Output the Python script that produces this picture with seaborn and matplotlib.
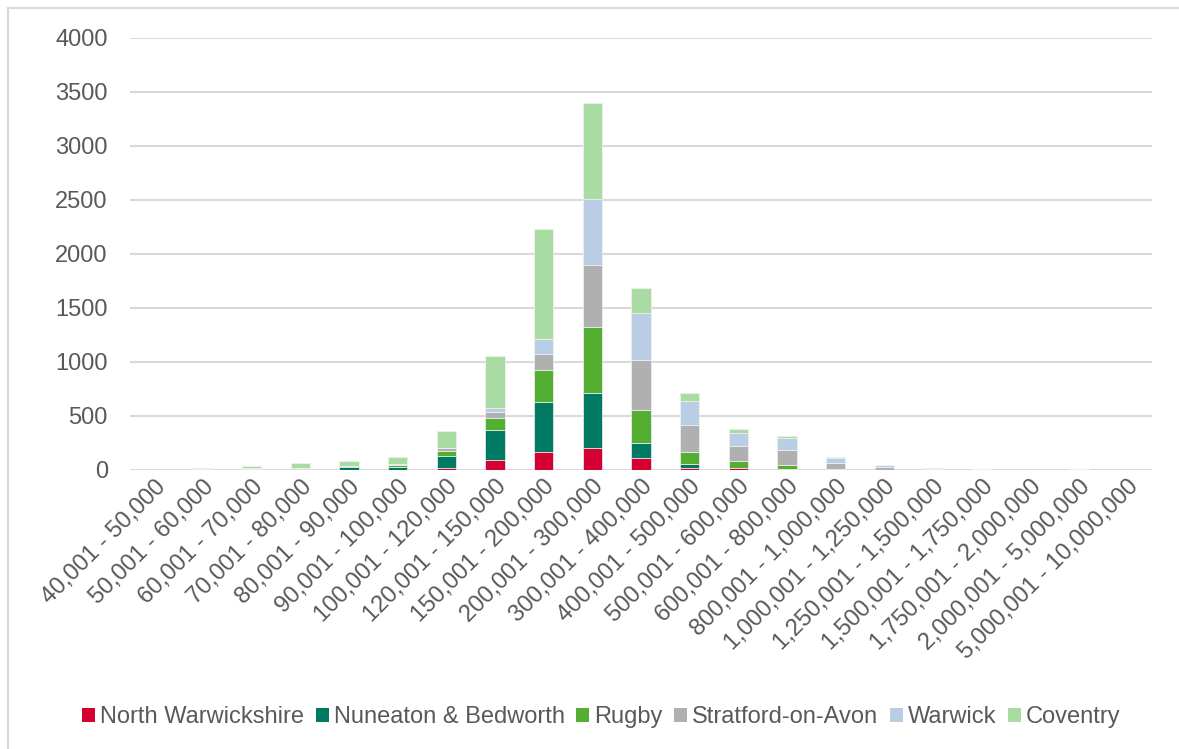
import numpy as np
import pandas as pd
import matplotlib
matplotlib.use("Agg")
import matplotlib.pyplot as plt
from matplotlib.patches import Patch, Rectangle
import seaborn as sns

# Price bands (GBP)
bands = [
    "40,001 - 50,000", "50,001 - 60,000", "60,001 - 70,000", "70,001 - 80,000",
    "80,001 - 90,000", "90,001 - 100,000", "100,001 - 120,000", "120,001 - 150,000",
    "150,001 - 200,000", "200,001 - 300,000", "300,001 - 400,000", "400,001 - 500,000",
    "500,001 - 600,000", "600,001 - 800,000", "800,001 - 1,000,000",
    "1,000,001 - 1,250,000", "1,250,001 - 1,500,000", "1,500,001 - 1,750,000",
    "1,750,001 - 2,000,000", "2,000,001 - 5,000,000", "5,000,001 - 10,000,000",
]

# Sales counts per district in each band
north_warwickshire = [0, 1, 1, 2, 2, 3, 22, 95, 168, 203, 112, 20, 14, 8, 2, 1, 0, 0, 0, 0, 0]
nuneaton_bedworth = [0, 2, 6, 4, 24, 28, 105, 277, 459, 508, 138, 35, 3, 2, 1, 0, 0, 0, 0, 0, 0]
rugby = [0, 1, 3, 10, 10, 15, 47, 108, 297, 617, 302, 111, 62, 34, 3, 1, 0, 0, 0, 0, 0]
stratford = [0, 1, 3, 2, 3, 2, 30, 56, 148, 568, 463, 250, 145, 139, 62, 24, 4, 6, 2, 4, 0]
warwick = [0, 1, 1, 1, 2, 3, 4, 37, 142, 614, 435, 219, 115, 117, 42, 17, 3, 2, 1, 1, 0]
coventry = [0, 14, 22, 45, 45, 70, 152, 487, 1015, 886, 238, 74, 40, 19, 8, 3, 10, 1, 0, 1, 0]

series_names = ["North Warwickshire", "Nuneaton & Bedworth", "Rugby",
                "Stratford-on-Avon", "Warwick", "Coventry"]
series_values = [north_warwickshire, nuneaton_bedworth, rugby, stratford, warwick, coventry]
colors = ["#D50032", "#007A62", "#53AE32", "#B0B0B0", "#B9CDE5", "#A9DCA3"]

text_color = "#595959"
grid_color = "#D9D9D9"

sns.set_theme(style="white")
plt.rcParams["font.family"] = ["Liberation Sans", "DejaVu Sans"]

fig = plt.figure(figsize=(11.79, 7.49), dpi=100)
ax = fig.add_axes([130 / 1179, 1 - 470 / 749, (1152 - 130) / 1179, (470 - 38) / 749])

bottom = np.zeros(len(bands))
for name, vals, col in zip(series_names, series_values, colors):
    sns.barplot(x=bands, y=vals, bottom=bottom, color=col, saturation=1, width=0.4,
                edgecolor="#F2F2F2", linewidth=0.5, ax=ax, zorder=3)
    bottom = bottom + np.array(vals)

ax.set_ylim(0, 4000)
ax.set_xlim(-0.5, len(bands) - 0.5)
ax.set_yticks(np.arange(0, 4001, 500))
ax.yaxis.grid(True, color=grid_color, linewidth=1.5, zorder=0)
ax.xaxis.grid(False)
for s in ax.spines.values():
    s.set_visible(False)
ax.set_xlabel("")
ax.set_ylabel("")
ax.tick_params(axis="y", length=0, pad=16, labelsize=17, labelcolor=text_color)
ax.tick_params(axis="x", length=0, pad=4, labelsize=17, labelcolor=text_color)
for lab in ax.get_xticklabels():
    lab.set_rotation(45)
    lab.set_ha("right")
    lab.set_rotation_mode("anchor")

handles = [Patch(facecolor=c, edgecolor="none") for c in colors]
fig.legend(handles, series_names, loc="center", bbox_to_anchor=(0.51, 1 - 717 / 749),
           ncol=6, frameon=False, fontsize=17, labelcolor=text_color,
           handlelength=0.55, handleheight=0.55, handletextpad=0.2,
           columnspacing=0.5, borderaxespad=0)

# Chart-area outline
fig.add_artist(Rectangle((8 / 1179, -0.1), 1.2, 1 - 8 / 749 + 0.1,
                         transform=fig.transFigure, fill=False,
                         edgecolor=grid_color, linewidth=1.5))

fig.savefig("out.png", dpi=100, facecolor="white")
